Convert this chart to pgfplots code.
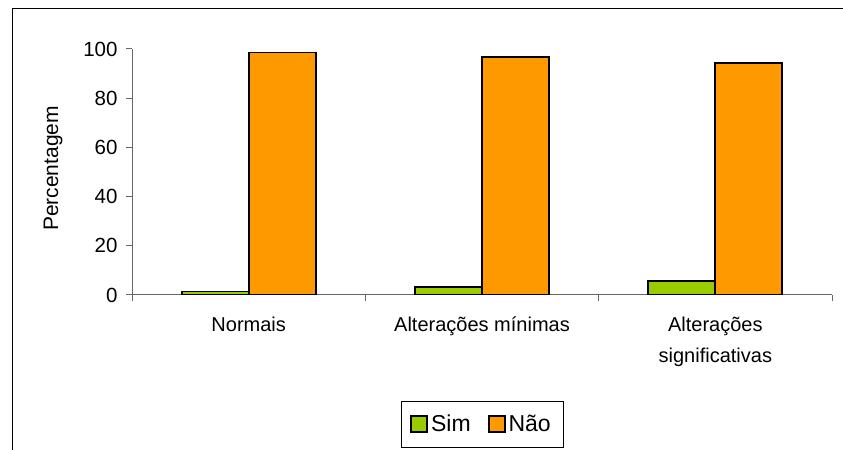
\documentclass[border=0pt]{standalone}
\usepackage{pgfplots}
\pgfplotsset{compat=1.18}
\usepackage{fontspec}
\setmainfont{Liberation Sans}

\definecolor{simgreen}{HTML}{99CC00}
\definecolor{naoorange}{HTML}{FF9900}

\begin{document}
\begin{tikzpicture}[x=1bp,y=1bp]
\path[use as bounding box] (0,0) rectangle (843,450);
% frame of the chart area (partly cropped)
\draw[line width=1bp] (12,0) -- (12,441) -- (843,441);
\begin{axis}[
  at={(132bp,155bp)}, anchor=south west,
  scale only axis, width=700bp, height=246bp,
  xmin=-0.5, xmax=2.5, ymin=0, ymax=100,
  /pgf/number format/assume math mode=true,
  axis x line*=bottom, axis y line*=left,
  axis line style={black!60, line width=1bp},
  tick align=outside, major tick length=6bp,
  tick style={black!60, line width=1bp},
  xtick={-0.5,0.5,1.5,2.5},
  x tick label as interval,
  xticklabels={Normais, Alterações mínimas, {Alterações\\significativas}},
  xticklabel style={align=center, yshift=-12bp, font=\fontsize{20bp}{31bp}\selectfont},
  ytick={0,20,...,100},
  yticklabel style={xshift=-5bp, font=\fontsize{20.5bp}{24bp}\selectfont},
  ylabel={Percentagem},
  every axis y label/.style={at={(axis description cs:-0.1129,0.514)}, rotate=90, anchor=center, font=\fontsize{21bp}{25bp}\selectfont},
  legend columns=2,
  legend style={at={(axis description cs:0.5,-0.526)}, anchor=center, draw=black,
    inner xsep=9bp, inner ysep=11bp,
    nodes={inner sep=3bp},
    font=\fontsize{23bp}{27bp}\selectfont,
    /tikz/every even column/.append style={column sep=14bp}},
  legend image code/.code={\draw[#1] (0bp,-8bp) rectangle (16bp,8bp);},
]
\addplot[ybar, fill=simgreen, draw=black, line width=1.8bp, bar width=67bp, bar shift=-33.5bp]
  coordinates {(0,1.4) (1,3.1) (2,5.6)};
\addplot[ybar, fill=naoorange, draw=black, line width=1.8bp, bar width=67bp, bar shift=33.5bp]
  coordinates {(0,98.6) (1,96.9) (2,94.4)};
\legend{Sim, Não}
\end{axis}
\end{tikzpicture}
\end{document}
